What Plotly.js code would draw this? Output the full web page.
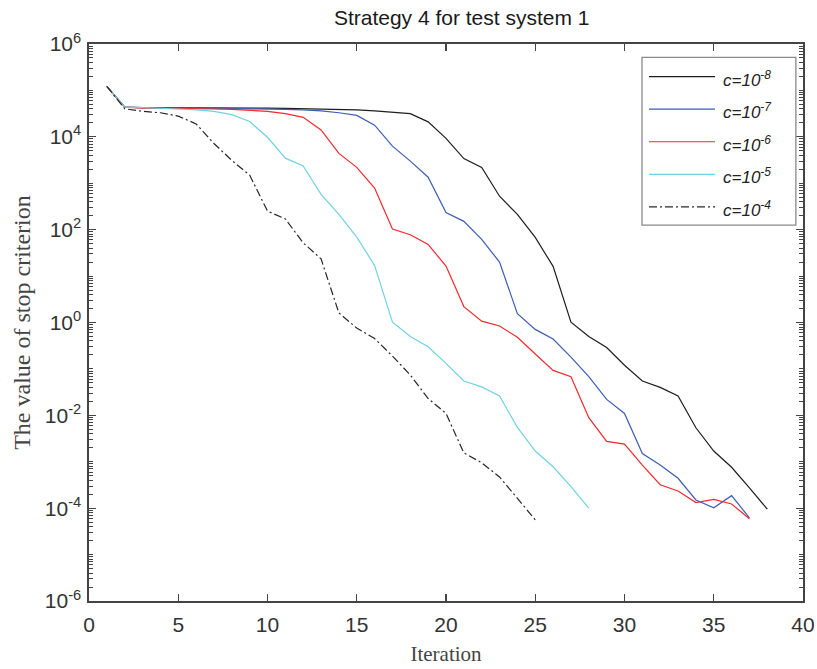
<!DOCTYPE html>
<html>
<head>
<meta charset="utf-8">
<script src="https://cdn.plot.ly/plotly-3.0.1.min.js"></script>
<style>html,body{margin:0;padding:0;background:#fff;}#chart{width:817px;height:669px;}</style>
</head>
<body>
<div id="chart"></div>
<script>
// Iteration numbers
const iterC8 = Array.from({length: 38}, (_, i) => i + 1);
const iterC7 = Array.from({length: 37}, (_, i) => i + 1);
const iterC6 = Array.from({length: 37}, (_, i) => i + 1);
const iterC5 = Array.from({length: 28}, (_, i) => i + 1);
const iterC4 = Array.from({length: 25}, (_, i) => i + 1);

// Values of the stop criterion
const valC8 = [1.22e5, 4.37e4, 4.27e4, 4.27e4, 4.26e4, 4.25e4, 4.24e4, 4.2e4, 4.17e4, 4.15e4,
  4.1e4, 4.05e4, 3.98e4, 3.9e4, 3.8e4, 3.63e4, 3.45e4, 3.16e4, 2.1e4, 9.3e3,
  3.4e3, 2.2e3, 525, 214, 68, 16.2, 1.02, 0.50, 0.29, 0.12,
  0.055, 0.040, 0.026, 5.4e-3, 1.7e-3, 7.6e-4, 2.75e-4, 9.5e-5];
const valC7 = [1.22e5, 4.37e4, 4.27e4, 4.27e4, 4.2e4, 4.17e4, 4.15e4, 4.07e4, 4.05e4, 3.98e4,
  3.9e4, 3.8e4, 3.63e4, 3.3e4, 2.9e4, 1.78e4, 6.3e3, 3.0e3, 1.35e3, 234,
  151, 62, 20, 1.55, 0.71, 0.44, 0.18, 0.068, 0.022, 0.011,
  1.5e-3, 8.5e-4, 4.4e-4, 1.5e-4, 1.02e-4, 1.86e-4, 6.2e-5];
const valC6 = [1.22e5, 4.37e4, 4.17e4, 4.15e4, 4.07e4, 4.05e4, 3.98e4, 3.9e4, 3.7e4, 3.55e4,
  3.16e4, 2.63e4, 1.41e4, 4.4e3, 2.2e3, 790, 103, 78, 48, 16.4,
  2.2, 1.07, 0.84, 0.48, 0.21, 0.093, 0.068, 8.9e-3, 2.75e-3, 2.4e-3,
  8.5e-4, 3.2e-4, 2.35e-4, 1.32e-4, 1.55e-4, 1.23e-4, 5.9e-5];
const valC5 = [1.22e5, 4.37e4, 4.27e4, 4.17e4, 3.98e4, 3.8e4, 3.55e4, 3.0e4, 2.14e4, 9.8e3,
  3.47e3, 2.35e3, 575, 214, 69, 17, 1.02, 0.50, 0.30, 0.132,
  0.055, 0.041, 0.026, 5.5e-3, 1.7e-3, 7.8e-4, 2.9e-4, 1.0e-4];
const valC4 = [1.22e5, 4.03e4, 3.55e4, 3.3e4, 2.8e4, 1.9e4, 7.2e3, 3.1e3, 1.5e3, 251,
  170, 52, 23.5, 1.6, 0.76, 0.45, 0.19, 0.074, 0.023, 0.011,
  1.55e-3, 9.5e-4, 4.7e-4, 1.6e-4, 5.6e-5];

const seriesNames = ['<i>c=10<sup>-8</sup></i>', '<i>c=10<sup>-7</sup></i>', '<i>c=10<sup>-6</sup></i>',
  '<i>c=10<sup>-5</sup></i>', '<i>c=10<sup>-4</sup></i>'];

// Axis tick labels
const yTickVals = [1e-6, 1e-4, 1e-2, 1e0, 1e2, 1e4, 1e6];
const yTickText = ['10<sup>-6</sup>', '10<sup>-4</sup>', '10<sup>-2</sup>', '10<sup>0</sup>',
  '10<sup>2</sup>', '10<sup>4</sup>', '10<sup>6</sup>'];
const xTickVals = [0, 5, 10, 15, 20, 25, 30, 35, 40];

const colors = ['#1e1e1e', '#3d5db3', '#f5282c', '#6fd2e4', '#262626'];
const dashes = ['solid', 'solid', 'solid', 'solid', '8px,3px,2px,3px'];
const xs = [iterC8, iterC7, iterC6, iterC5, iterC4];
const ys = [valC8, valC7, valC6, valC5, valC4];

const traces = xs.map((x, i) => ({
  x: x, y: ys[i], type: 'scatter', mode: 'lines', name: seriesNames[i],
  showlegend: false,
  line: {color: colors[i], width: 1.2, dash: dashes[i]}
}));

// Legend box drawn in paper coordinates (layout only)
const legBox = {x0: 0.7745, x1: 0.990, y0: 0.675, y1: 0.976};
const legLine = {x0: 0.7843, x1: 0.8768, textX: 0.885, yTop: 0.9413, step: 0.0584};
const shapes = [{type: 'rect', xref: 'paper', yref: 'paper', x0: legBox.x0, x1: legBox.x1,
  y0: legBox.y0, y1: legBox.y1, line: {color: '#8a8a8a', width: 1.3}, fillcolor: '#fff', layer: 'above'}];
const annotations = [];
seriesNames.forEach((nm, i) => {
  const yy = legLine.yTop - i * legLine.step;
  shapes.push({type: 'line', xref: 'paper', yref: 'paper', x0: legLine.x0, x1: legLine.x1, y0: yy, y1: yy,
    line: {color: colors[i], width: 1.2, dash: dashes[i]}, layer: 'above'});
  annotations.push({xref: 'paper', yref: 'paper', x: legLine.textX, y: yy, xanchor: 'left', yanchor: 'middle',
    yshift: -2, text: nm, showarrow: false,
    font: {family: 'Liberation Sans, Arial, sans-serif', size: 17, color: '#222'}});
});

const axisColor = '#444';
const layout = {
  width: 817, height: 669,
  margin: {l: 89, r: 14, t: 44, b: 68, pad: 0},
  paper_bgcolor: '#fff', plot_bgcolor: '#fff',
  showlegend: false,
  title: {
    text: 'Strategy 4 for test system 1',
    font: {family: 'Liberation Sans, Arial, sans-serif', size: 21, color: '#1a1a1a'},
    x: 0.522, xref: 'paper', xanchor: 'center',
    y: 1 - 18 / 669, yref: 'container', yanchor: 'middle'
  },
  xaxis: {
    range: [0, 40], tickmode: 'array', tickvals: xTickVals,
    ticks: 'inside', ticklen: 7, tickwidth: 1.3, tickcolor: axisColor,
    showline: true, linecolor: axisColor, linewidth: 1.6, mirror: 'allticks',
    showgrid: false, zeroline: false, ticklabelstandoff: 4,
    tickfont: {family: 'Liberation Sans, Arial, sans-serif', size: 21, color: '#333'},
    title: {text: 'Iteration', standoff: 11,
      font: {family: 'Liberation Serif, Times New Roman, serif', size: 21, color: '#444'}}
  },
  yaxis: {
    type: 'log', range: [-6, 6], tickmode: 'array', tickvals: yTickVals, ticktext: yTickText,
    ticks: 'inside', ticklen: 7, tickwidth: 1.3, tickcolor: axisColor,
    minor: {ticks: 'inside', ticklen: 4, tickwidth: 1, tickcolor: axisColor, tickmode: 'linear', dtick: 'D1', showgrid: false},
    showline: true, linecolor: axisColor, linewidth: 1.6, mirror: 'allticks',
    showgrid: false, zeroline: false, ticklabelstandoff: 2,
    tickfont: {family: 'Liberation Sans, Arial, sans-serif', size: 21, color: '#333'},
    title: {text: 'The value of stop criterion', standoff: 7,
      font: {family: 'Liberation Serif, Times New Roman, serif', size: 24, color: '#444'}}
  },
  shapes: shapes,
  annotations: annotations
};

Plotly.newPlot('chart', traces, layout, {displayModeBar: false, staticPlot: true});
</script>
</body>
</html>
